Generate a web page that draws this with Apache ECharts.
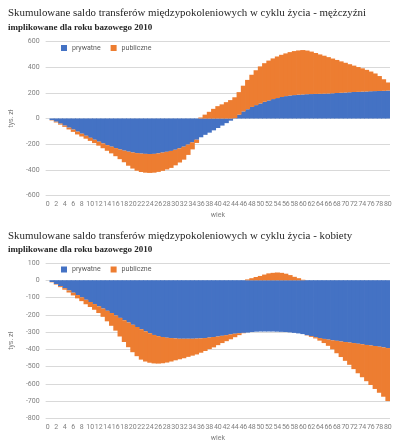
<!DOCTYPE html>
<html><head><meta charset="utf-8">
<script src="https://cdn.jsdelivr.net/npm/echarts@6/dist/echarts.min.js"></script>
<style>html,body{margin:0;padding:0;background:#fff}#c{width:400px;height:448px}</style>
</head><body><div id="c"></div>
<script>
const ages = Array.from({length:81},(_,i)=>String(i));
const titleM = "Skumulowane saldo transferów międzypokoleniowych w cyklu życia - mężczyźni";
const titleK = "Skumulowane saldo transferów międzypokoleniowych w cyklu życia - kobiety";
const subtitle = "implikowane dla roku bazowego 2010";
const yName = "tys. zł";
const xName = "wiek";
const seriesNames = ["prywatne","publiczne"];

const menPrivate = [0,-12,-25,-40,-55,-71,-86,-102,-118,-134,-150,-165,-180,-194,-207,-219,-230,-241,-250,-258,-264,-269,-273,-275,-276,-275,-271,-265,-259,-252,-243,-232,-219,-203,-185,-165,-146,-127,-110,-92,-74,-55,-36,-17,3,30,55,72,90,104,117,130,141,151,159,167,174,179,182,185,187,189,190,191,192,193,194,196,198,200,202,204,206,207,209,210,212,213,214,215,217];
const menPublic = [0,-3,-6,-8,-10,-14,-18,-22,-22,-23,-24,-26,-31,-37,-44,-52,-63,-75,-90,-109,-125,-137,-143,-146,-147,-146,-144,-142,-137,-132,-121,-110,-101,-80,-55,-25,8,30,52,75,96,110,127,143,162,175,200,228,250,271,288,300,309,316,323,328,332,337,342,344,345,339,330,318,306,295,283,270,257,244,231,218,205,193,181,168,153,137,116,90,63];

const womenPrivate = [0,-10,-22,-34,-46,-59,-72,-86,-99,-113,-126,-138,-151,-164,-177,-190,-204,-218,-232,-245,-258,-271,-284,-296,-307,-317,-324,-329,-333,-335,-337,-339,-339,-339,-339,-338,-337,-335,-332,-329,-326,-322,-318,-314,-310,-307,-305,-303,-300,-298,-297,-297,-297,-297,-298,-299,-300,-302,-305,-308,-312,-318,-324,-330,-335,-340,-344,-348,-351,-355,-358,-361,-364,-368,-371,-375,-378,-381,-385,-389,-393];
const womenPublic = [0,-2,-3,-6,-9,-12,-16,-19,-22,-26,-29,-33,-39,-48,-61,-74,-88,-108,-126,-143,-159,-169,-176,-175,-171,-165,-159,-152,-144,-136,-127,-119,-113,-105,-98,-92,-83,-75,-67,-60,-50,-42,-35,-28,-20,-11,-2,5,12,19,25,33,40,43,45,43,38,30,20,12,3,-2,-5,-7,-15,-24,-36,-52,-72,-90,-109,-129,-151,-171,-191,-210,-229,-249,-267,-286,-307];

const BLUE = '#4472C4', ORANGE = '#ED7D31';
const chart = echarts.init(document.getElementById('c'), null, {renderer:'canvas'});

const titleStyle = {fontFamily:'Liberation Serif', fontSize:10.9, color:'#1f1f1f', fontWeight:'normal'};
const subStyle = {fontFamily:'Liberation Serif', fontSize:9, color:'#262626', fontWeight:'bold'};
const lab = {fontFamily:'Roboto', fontSize:7, color:'#7f7f7f'};

function xAx(gi){
  return {type:'category', gridIndex:gi, data:ages,
    axisLine:{show:false}, axisTick:{show:false},
    axisLabel:Object.assign({interval:1, margin:5}, lab),
    name:xName, nameLocation:'middle', nameGap:16, nameTextStyle:lab};
}
function yAx(gi,min,max,step){
  return {type:'value', gridIndex:gi, min:min, max:max, interval:step,
    axisLine:{show:false}, axisTick:{show:false},
    axisLabel:Object.assign({margin:6}, lab),
    splitLine:{lineStyle:{color:'#d9d9d9', width:1}},
    name:yName, nameLocation:'middle', nameGap:23, nameRotate:90, nameTextStyle:lab};
}
function bar(name, data, gi, color, stack){
  return {type:'bar', name:name, data:data, xAxisIndex:gi, yAxisIndex:gi,
    stack:stack, barWidth:5, itemStyle:{color:color}, animation:false};
}

chart.setOption({
  animation:false,
  title:[
    {text:titleM, left:8, top:8, padding:0, textStyle:titleStyle},
    {text:subtitle, left:8, top:23, padding:0, textStyle:subStyle},
    {text:titleK, left:8, top:231, padding:0, textStyle:titleStyle},
    {text:subtitle, left:8, top:245.5, padding:0, textStyle:subStyle}
  ],
  legend:[
    {data:seriesNames, left:61, top:44.5, padding:0, itemWidth:6, itemHeight:6, itemGap:10, textStyle:{fontFamily:'Roboto',fontSize:7,color:'#595959'}, icon:'rect'},
    {data:seriesNames, left:61, top:266, padding:0, itemWidth:6, itemHeight:6, itemGap:10, textStyle:{fontFamily:'Roboto',fontSize:7,color:'#595959'}, icon:'rect'}
  ],
  grid:[
    {left:30.5, right:10, top:41.3, height:154.4},
    {left:30.5, right:10, top:263, height:155.3}
  ],
  xAxis:[xAx(0), xAx(1)],
  yAxis:[yAx(0,-600,600,200), yAx(1,-800,100,100)],
  series:[
    bar(seriesNames[0], menPrivate, 0, BLUE, 'm'),
    bar(seriesNames[1], menPublic, 0, ORANGE, 'm'),
    bar(seriesNames[0], womenPrivate, 1, BLUE, 'k'),
    bar(seriesNames[1], womenPublic, 1, ORANGE, 'k')
  ]
});
</script></body></html>
